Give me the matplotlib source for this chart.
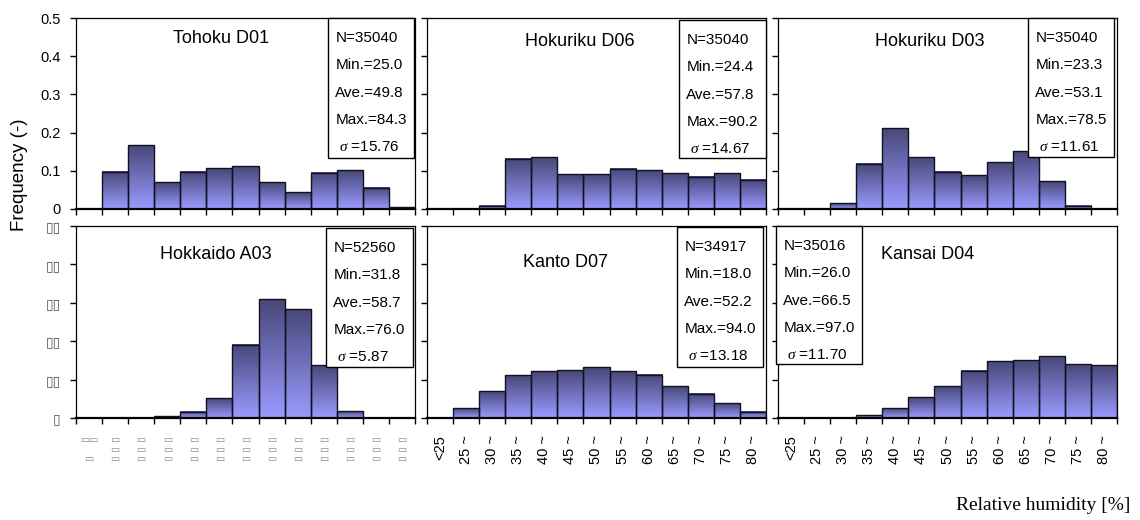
import numpy as np
import matplotlib
matplotlib.use("Agg")
import matplotlib.pyplot as plt
from matplotlib.colors import LinearSegmentedColormap
from matplotlib.patches import Rectangle

plt.rcParams['font.family'] = ['Liberation Sans', 'DejaVu Sans']
plt.rcParams['mathtext.fontset'] = 'custom'
plt.rcParams['mathtext.it'] = 'Liberation Serif:italic'
plt.rcParams['mathtext.rm'] = 'Liberation Sans'

# humidity classes (13 bins)
bins = ['<25', '25 ~', '30 ~', '35 ~', '40 ~', '45 ~', '50 ~',
        '55 ~', '60 ~', '65 ~', '70 ~', '75 ~', '80 ~']

# frequency per bin
tohoku_d01 = [0, 0.098, 0.167, 0.070, 0.098, 0.107, 0.112, 0.070, 0.044, 0.095, 0.102, 0.056, 0.004]
hokuriku_d06 = [0, 0, 0.009, 0.132, 0.136, 0.091, 0.091, 0.106, 0.101, 0.094, 0.085, 0.094, 0.076]
hokuriku_d03 = [0, 0, 0.015, 0.119, 0.212, 0.136, 0.097, 0.088, 0.123, 0.151, 0.073, 0.008, 0]
hokkaido_a03 = [0, 0, 0, 0.005, 0.016, 0.051, 0.191, 0.309, 0.283, 0.137, 0.018, 0, 0]
kanto_d07 = [0, 0.025, 0.070, 0.111, 0.122, 0.125, 0.132, 0.122, 0.112, 0.083, 0.063, 0.039, 0.016]
kansai_d04 = [0, 0, 0, 0.007, 0.026, 0.054, 0.083, 0.123, 0.148, 0.150, 0.161, 0.140, 0.137]

names = ['Tohoku D01', 'Hokuriku D06', 'Hokuriku D03',
         'Hokkaido A03', 'Kanto D07', 'Kansai D04']
series = [tohoku_d01, hokuriku_d06, hokuriku_d03, hokkaido_a03, kanto_d07, kansai_d04]
stats = [
    ['N=35040', 'Min.=25.0', 'Ave.=49.8', 'Max.=84.3', ' $\\sigma$ =15.76'],
    ['N=35040', 'Min.=24.4', 'Ave.=57.8', 'Max.=90.2', ' $\\sigma$ =14.67'],
    ['N=35040', 'Min.=23.3', 'Ave.=53.1', 'Max.=78.5', ' $\\sigma$ =11.61'],
    ['N=52560', 'Min.=31.8', 'Ave.=58.7', 'Max.=76.0', ' $\\sigma$ =5.87'],
    ['N=34917', 'Min.=18.0', 'Ave.=52.2', 'Max.=94.0', ' $\\sigma$ =13.18'],
    ['N=35016', 'Min.=26.0', 'Ave.=66.5', 'Max.=97.0', ' $\\sigma$ =11.70'],
]

# layout tweaks: title position (axes frac) and stat box (x0, x1, y0, y1)
title_pos = [(0.428, 0.895), (0.451, 0.875), (0.448, 0.875),
             (0.413, 0.85), (0.41, 0.81), (0.442, 0.85)]
box_pos = [(0.743, 0.997, 0.267, 1.0), (0.743, 1.0, 0.267, 0.99),
           (0.737, 0.991, 0.272, 1.0), (0.737, 0.994, 0.266, 0.99),
           (0.737, 0.991, 0.266, 0.995), (-0.006, 0.248, 0.28, 1.0)]

grad = LinearSegmentedColormap.from_list('bar', ['#9a9aff', '#48487a'])

W, H = 1140, 520
fig = plt.figure(figsize=(W / 100, H / 100), dpi=100)
lefts = [76, 427, 778]
rows = [(18, 209), (226, 418)]

x = np.arange(len(bins))
for i in range(6):
    r, c = divmod(i, 3)
    top, bot = rows[r]
    ax = fig.add_axes([lefts[c] / W, (H - bot) / H, 339 / W, (bot - top) / H])

    bars = ax.bar(x, series[i], width=1.0, fill=False, edgecolor='#111122',
                  linewidth=1.0, zorder=3)
    g = np.linspace(0, 1, 64).reshape(-1, 1)
    for b in bars:
        if b.get_height() <= 0:
            continue
        ax.imshow(g, cmap=grad, origin='lower', aspect='auto', zorder=2,
                  extent=(b.get_x(), b.get_x() + b.get_width(), 0, b.get_height()))

    ax.set_xlim(-0.5, len(bins) - 0.5)
    ax.set_ylim(0, 0.5)
    ax.set_xticks(np.arange(len(bins) + 1) - 0.5)
    ax.set_xticklabels([])
    ax.set_yticks([0, 0.1, 0.2, 0.3, 0.4, 0.5])
    ax.tick_params(axis='both', which='major', direction='out', length=4,
                   width=1, labelsize=10.5)
    ax.tick_params(axis='y', which='major', pad=7)
    for s in ax.spines.values():
        s.set_linewidth(0.9)
    ax.spines['bottom'].set_linewidth(1.6)

    if i == 0:
        ax.set_yticklabels(['0', '0.1', '0.2', '0.3', '0.4', '0.5'])
    elif i == 3:
        ax.set_yticklabels(['▯'] + ['▯▯'] * 5, color='#555555', fontsize=10,
                           family=['DejaVu Sans'])
    else:
        ax.set_yticklabels([])

    if r == 1:
        ax.set_xticks(x, minor=True)
        ax.tick_params(axis='x', which='minor', length=0, pad=12.5)
        if c == 0:
            garbled = ['▭▭\n\n▭'] + ['▭\n▭\n▭'] * 12
            ax.set_xticklabels(garbled, minor=True, fontsize=7, color='#8a8a8a',
                               family=['DejaVu Sans'], linespacing=0.9)
        else:
            ax.set_xticklabels(bins, minor=True, rotation=90, fontsize=10.5)

    tx, ty = title_pos[i]
    ax.text(tx, ty, names[i], transform=ax.transAxes, ha='center', va='center',
            fontsize=13)

    x0, x1, y0, y1 = box_pos[i]
    ax.add_patch(Rectangle((x0, y0), x1 - x0, y1 - y0, transform=ax.transAxes,
                           facecolor='white', edgecolor='black', linewidth=1.0,
                           zorder=5, clip_on=False))
    hpx = bot - top
    for k, line in enumerate(stats[i]):
        ax.text(x0 + 0.022, y1 - (20 + 27.3 * k) / hpx, line,
                transform=ax.transAxes, ha='left', va='center', fontsize=11,
                zorder=6)

fig.text(20 / W, 1 - 175 / H, 'Frequency (-)', rotation=90, ha='center',
         va='center', fontsize=13.5)
fig.text(1130 / W, 1 - 505 / H, 'Relative humidity [%]', ha='right',
         va='center', fontsize=14, family=['Liberation Serif'])

fig.savefig('out.png', dpi=100)
